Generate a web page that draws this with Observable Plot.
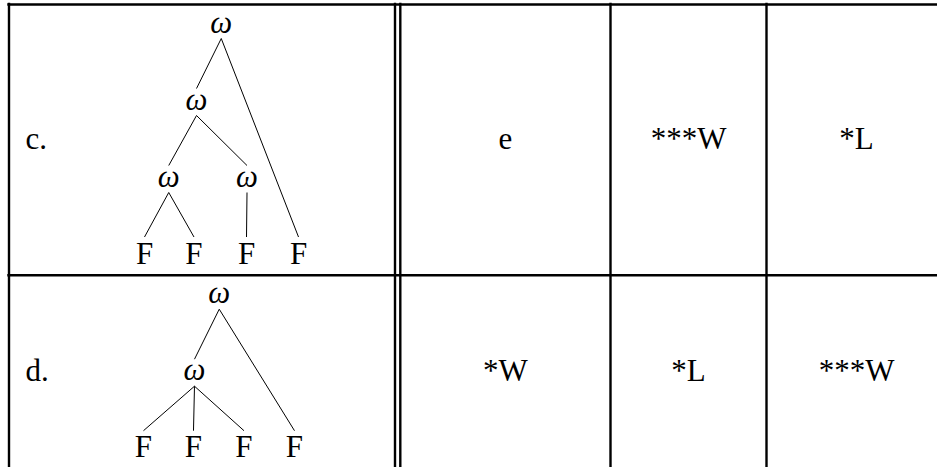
<!DOCTYPE html>
<html>
<head>
<meta charset="utf-8">
<script src="https://cdn.jsdelivr.net/npm/d3@7"></script>
<script src="https://cdn.jsdelivr.net/npm/@observablehq/plot@0.6"></script>
<style>
  html, body { margin: 0; padding: 0; background: #fff; overflow: hidden; }
</style>
</head>
<body>
<div id="chart"></div>
<script>
// ---------- data ----------
const rowLabels = ["c.", "d."];
const rowCCells = ["e", "***W", "*L"];
const rowDCells = ["*W", "*L", "***W"];

// tree c: nodes (slot = horizontal leaf position, level = depth)
const treeCNodes = [
  {id: "w1", label: "ω", slot: 1.52, level: 0},
  {id: "w2", label: "ω", slot: 1.03, level: 1},
  {id: "w3", label: "ω", slot: 0.48, level: 2},
  {id: "w4", label: "ω", slot: 2.03, level: 2},
  {id: "F1", label: "F", slot: 0.00, level: 3},
  {id: "F2", label: "F", slot: 0.98, level: 3},
  {id: "F3", label: "F", slot: 2.02, level: 3},
  {id: "F4", label: "F", slot: 3.05, level: 3}
];
const treeCEdges = [["w1","w2"],["w1","F4"],["w2","w3"],["w2","w4"],["w3","F1"],["w3","F2"],["w4","F3"]];

// tree d
const treeDNodes = [
  {id: "w1", label: "ω", slot: 1.48, level: 0},
  {id: "w2", label: "ω", slot: 0.99, level: 1},
  {id: "F1", label: "F", slot: -0.02, level: 2},
  {id: "F2", label: "F", slot: 0.97, level: 2},
  {id: "F3", label: "F", slot: 1.97, level: 2},
  {id: "F4", label: "F", slot: 2.97, level: 2}
];
const treeDEdges = [["w1","w2"],["w1","F4"],["w2","F1"],["w2","F2"],["w2","F3"]];

// ---------- layout (code, not data) ----------
const W = 937, H = 467, FS = 31;
const colEdges = [8.5, 394.5, 399.8, 610, 766, 946];
const rowEdges = [4, 274.7, 545.5];
const labelX = 25;
const treeX0 = 144, leafGap = 50.5;
const firstBaseline = 28, levelGap = 77;

const rows = [
  {label: rowLabels[0], cells: rowCCells, nodes: treeCNodes, edges: treeCEdges, textBase: 144},
  {label: rowLabels[1], cells: rowDCells, nodes: treeDNodes, edges: treeDEdges, textBase: 105.5}
];

const nodePts = [], linkPts = [], cellPts = [], labelPts = [];
rows.forEach((r, i) => {
  const top = rowEdges[i];
  const pos = new Map(r.nodes.map(n => [n.id, {
    ...n,
    px: treeX0 + n.slot * leafGap,
    py: top + firstBaseline + n.level * levelGap
  }]));
  pos.forEach(p => nodePts.push(p));
  r.edges.forEach(([a, b]) => {
    const p = pos.get(a), c = pos.get(b);
    linkPts.push({
      x1: p.px, y1: p.py + 6,
      x2: c.px, y2: c.py - (c.label === "F" ? 26.5 : 21)
    });
  });
  const base = top + r.textBase;
  labelPts.push({x: labelX, y: base, text: r.label});
  r.cells.forEach((t, j) => {
    cellPts.push({x: (colEdges[j + 2] + colEdges[j + 3]) / 2, y: base, text: t});
  });
});

const vRules = colEdges.map(x => ({x, y1: rowEdges[0] - 1.2, y2: rowEdges[2]}));
const hRules = rowEdges.map(y => ({y, x1: colEdges[0] - 1.2, x2: colEdges[5]}));

const font = "'Liberation Serif', 'Times New Roman', serif";

const chart = Plot.plot({
  width: W,
  height: H,
  margin: 0,
  x: {domain: [0, W], range: [0, W], axis: null},
  y: {domain: [0, H], range: [0, H], axis: null},
  style: {background: "#fff", fontFamily: font},
  marks: [
    Plot.ruleY(hRules, {y: "y", x1: "x1", x2: "x2", stroke: "#000", strokeWidth: 2.4}),
    Plot.ruleX(vRules, {x: "x", y1: "y1", y2: "y2", stroke: "#000", strokeWidth: 2.4}),
    Plot.link(linkPts, {x1: "x1", y1: "y1", x2: "x2", y2: "y2", stroke: "#000", strokeWidth: 1}),
    Plot.text(nodePts.filter(d => d.label === "ω"), {
      x: "px", y: "py", text: "label", fontSize: FS, fontStyle: "italic",
      fontFamily: font, lineAnchor: "bottom", textAnchor: "middle", fill: "#000"
    }),
    Plot.text(nodePts.filter(d => d.label === "F"), {
      x: "px", y: "py", text: "label", fontSize: FS,
      fontFamily: font, lineAnchor: "bottom", textAnchor: "middle", fill: "#000"
    }),
    Plot.text(labelPts, {
      x: "x", y: "y", text: "text", fontSize: FS,
      fontFamily: font, lineAnchor: "bottom", textAnchor: "start", fill: "#000"
    }),
    Plot.text(cellPts, {
      x: "x", y: "y", text: "text", fontSize: FS,
      fontFamily: font, lineAnchor: "bottom", textAnchor: "middle", fill: "#000"
    })
  ]
});
document.getElementById("chart").appendChild(chart);
</script>
</body>
</html>
